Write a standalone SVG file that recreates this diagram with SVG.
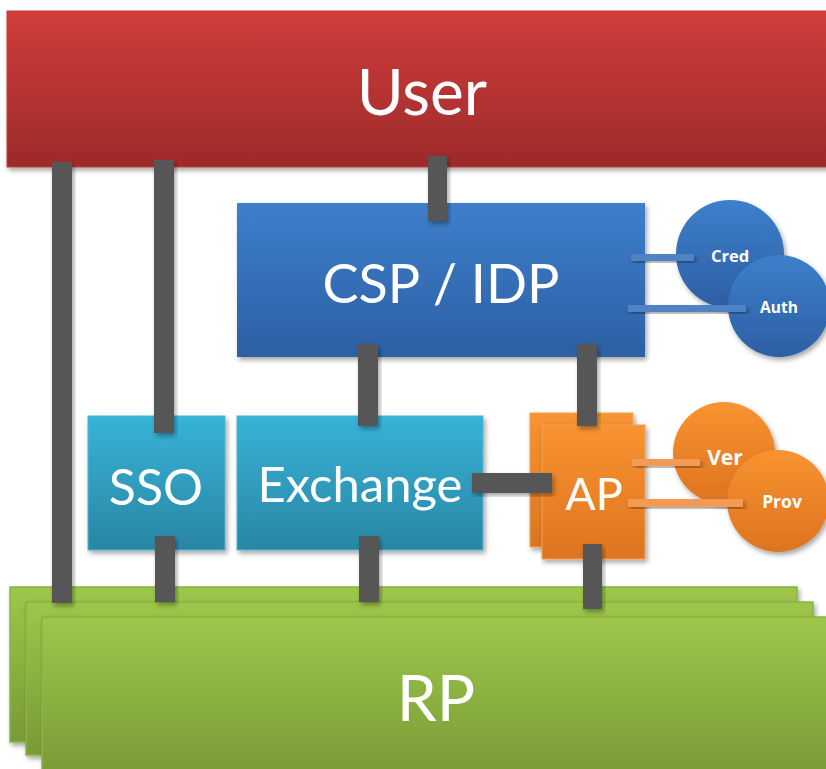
<svg xmlns="http://www.w3.org/2000/svg" width="826" height="769" viewBox="0 0 826 769">
<defs>
<linearGradient id="gRed" x1="0" y1="0" x2="0" y2="1"><stop offset="0" stop-color="#d13d3b"/><stop offset="1" stop-color="#9c2a2a"/></linearGradient>
<linearGradient id="gBlue" x1="0" y1="0" x2="0" y2="1"><stop offset="0" stop-color="#3d7fcc"/><stop offset="1" stop-color="#2d5fa3"/></linearGradient>
<linearGradient id="gCyan" x1="0" y1="0" x2="0" y2="1"><stop offset="0" stop-color="#37b3d8"/><stop offset="1" stop-color="#2986a3"/></linearGradient>
<linearGradient id="gOrange" x1="0" y1="0" x2="0" y2="1"><stop offset="0" stop-color="#f99331"/><stop offset="1" stop-color="#dd7420"/></linearGradient>
<linearGradient id="gGreen" x1="0" y1="0" x2="0" y2="1"><stop offset="0" stop-color="#9dc74a"/><stop offset="1" stop-color="#799a37"/></linearGradient>
<filter id="sh" x="-10%" y="-10%" width="130%" height="130%"><feDropShadow dx="2" dy="3" stdDeviation="2.5" flood-color="#000" flood-opacity="0.35"/></filter>
</defs>
<style>
.lbl{font-family:Lato,"Open Sans","Liberation Sans",sans-serif;font-weight:400;fill:#fff;text-anchor:middle}
.sm{font-family:"Open Sans","Liberation Sans",sans-serif;font-weight:bold;fill:#fff;text-anchor:middle}
.bar{fill:#575757;filter:url(#sh)}
</style>
<rect width="826" height="769" fill="#fff"/>
<g id="rp">
<rect x="10" y="587" width="787" height="155" fill="url(#gGreen)" stroke="#8cb342" stroke-width="1.5" filter="url(#sh)"/>
<rect x="26" y="602" width="787" height="153" fill="url(#gGreen)" stroke="#8cb342" stroke-width="1.5" filter="url(#sh)"/>
<rect x="42" y="617" width="800" height="160" fill="url(#gGreen)" stroke="#8cb342" stroke-width="1.5" filter="url(#sh)"/>
<text class="lbl" x="436" y="721" font-size="64">RP</text>
</g>
<g id="user">
<rect x="7" y="11" width="830" height="156" fill="url(#gRed)" stroke="#c0413d" stroke-width="1" filter="url(#sh)"/>
<text class="lbl" x="422" y="115" font-size="64">User</text>
</g>
<g id="csp">
<rect x="237" y="203" width="408" height="154" fill="url(#gBlue)" filter="url(#sh)"/>
<text class="lbl" x="441" y="303" font-size="54">CSP / IDP</text>
</g>
<g id="sso">
<rect x="88" y="416" width="137" height="134" fill="url(#gCyan)" stroke="#4cb7d6" stroke-width="1" filter="url(#sh)"/>
<text class="lbl" x="156" y="505" font-size="50">SSO</text>
</g>
<g id="exchange">
<rect x="237" y="416" width="246" height="134" fill="url(#gCyan)" stroke="#4cb7d6" stroke-width="1" filter="url(#sh)"/>
<text class="lbl" x="360" y="502" font-size="49">Exchange</text>
</g>
<g id="ap">
<rect x="530" y="413" width="103" height="134" fill="url(#gOrange)" stroke="#f5a050" stroke-width="1" filter="url(#sh)"/>
<rect x="542" y="425" width="103" height="134" fill="url(#gOrange)" stroke="#f5a050" stroke-width="1" filter="url(#sh)"/>
<text class="lbl" x="594" y="510" font-size="45">AP</text>
</g>
<g id="connectors">
<rect class="bar" x="52" y="162" width="20" height="441"/>
<rect class="bar" x="154" y="160" width="20" height="273"/>
<rect class="bar" x="428" y="156" width="19" height="65"/>
<rect class="bar" x="358" y="344" width="20" height="82"/>
<rect class="bar" x="577" y="344" width="20" height="82"/>
<rect class="bar" x="155" y="536" width="20" height="66"/>
<rect class="bar" x="359" y="536" width="20" height="66"/>
<rect class="bar" x="472" y="473" width="80" height="20"/>
<rect class="bar" x="583" y="544" width="19" height="65"/>
</g>
<g id="cred">
<circle cx="730" cy="254" r="54" fill="url(#gBlue)" filter="url(#sh)"/>
</g>
<g id="auth">
<circle cx="779" cy="306" r="51" fill="url(#gBlue)" filter="url(#sh)"/>
</g>
<g id="ver">
<circle cx="724" cy="453" r="51" fill="url(#gOrange)" filter="url(#sh)"/>
</g>
<g id="prov">
<circle cx="778" cy="501" r="51" fill="url(#gOrange)" filter="url(#sh)"/>
</g>
<g id="links">
<rect x="631" y="254" width="63" height="7" fill="#4f83c4" filter="url(#sh)"/>
<rect x="628" y="305" width="118" height="7" fill="#4f83c4" filter="url(#sh)"/>
<rect x="632" y="459" width="68" height="7" fill="#f39a52" filter="url(#sh)"/>
<rect x="628" y="499" width="115" height="8" fill="#f39a52" filter="url(#sh)"/>
</g>
<text class="sm" x="730" y="262" font-size="16.5">Cred</text>
<text class="sm" x="779" y="313" font-size="15.5">Auth</text>
<text class="sm" x="725" y="465" font-size="21">Ver</text>
<text class="sm" x="782" y="508" font-size="17.5">Prov</text>
</svg>
